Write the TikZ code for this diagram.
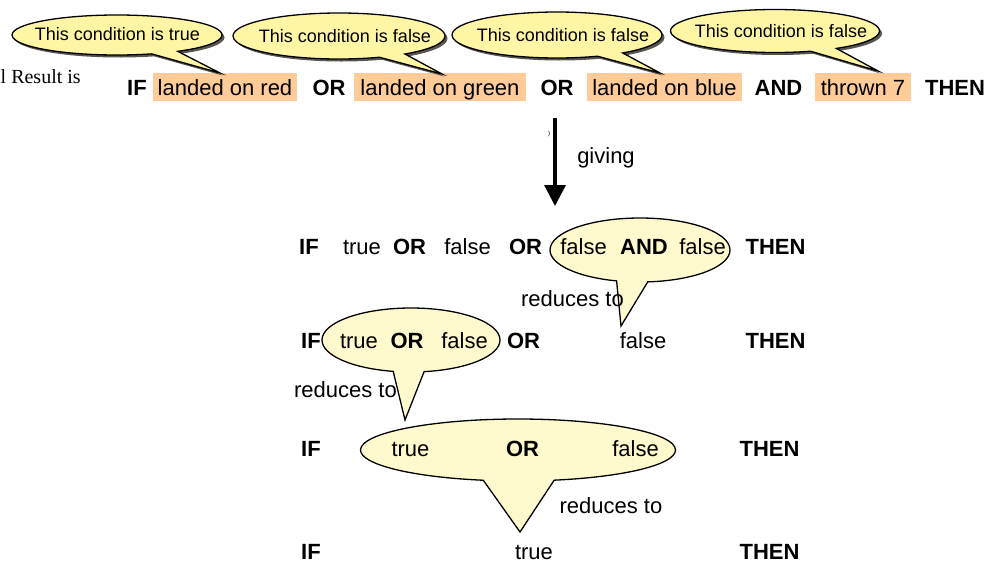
\documentclass[tikz,border=0pt]{standalone}
\usepackage{fontspec}
\setmainfont{Liberation Sans}
\newfontfamily\resultfont{Liberation Serif}
\usetikzlibrary{shapes.callouts,shadows,arrows.meta}
\definecolor{condfill}{RGB}{255,204,153}
\definecolor{notefill}{RGB}{255,246,165}
\definecolor{bubblefill}{RGB}{255,250,205}
\definecolor{noteshade}{RGB}{88,86,78}
\tikzset{
  word/.style={anchor=base, inner sep=0pt, font=\fontsize{22}{26}\selectfont},
  kw/.style={word, font=\fontsize{22}{26}\selectfont\bfseries},
  cond/.style={word, fill=condfill, inner xsep=5pt, inner ysep=4pt, text height=18pt, text depth=2pt},
  note/.style={ellipse callout, draw=black, line width=1.3pt, fill=notefill, inner sep=0pt,
    callout pointer arc=16, drop shadow={shadow xshift=2.5pt, shadow yshift=-2.5pt, fill=noteshade, opacity=1}},
  notetext/.style={anchor=base, inner sep=0pt, font=\fontsize{18}{22}\selectfont},
  bubble/.style={ellipse callout, draw=black, line width=1.3pt, fill=bubblefill, inner sep=0pt, callout pointer arc=20},
}
\begin{document}
\begin{tikzpicture}[x=1pt,y=-1pt]
  \useasboundingbox (0,0) rectangle (990,563);
  % the original condition
  \node[word, anchor=base west, font=\resultfont\fontsize{20}{24}\selectfont] (result) at (0.5,83) {l Result is};
  \node[kw] (if1) at (137,95) {IF};
  \node[cond, minimum width=142pt] (red) at (225,95) {landed on red};
  \node[kw] (or1) at (329,95) {OR};
  \node[cond, minimum width=172pt] (green) at (440,95) {landed on green};
  \node[kw] (or2) at (557,95) {OR};
  \node[cond, minimum width=155pt] (blue) at (664.5,95) {landed on blue};
  \node[kw] (and1) at (778.5,95) {AND};
  \node[cond, minimum width=96pt] (seven) at (863,95) {thrown 7};
  \node[kw] (then1) at (955,95) {THEN};
  % notes above the conditions
  \node[note, minimum width=210pt, minimum height=40pt, callout absolute pointer={(220,73)}] (note1) at (117,35) {};
  \node[notetext] (text1) at (117.5,40) {This condition is true};
  \node[note, minimum width=212pt, minimum height=46pt, callout absolute pointer={(442,74)}] (note2) at (339,36) {};
  \node[notetext] (text2) at (345,42) {This condition is false};
  \node[note, minimum width=210pt, minimum height=46pt, callout absolute pointer={(660,73)}] (note3) at (557,35) {};
  \node[notetext] (text3) at (563,41) {This condition is false};
  \node[note, minimum width=209pt, minimum height=43pt, callout absolute pointer={(878,71)}] (note4) at (775,31) {};
  \node[notetext] (text4) at (781,37) {This condition is false};
  % giving
  \coordinate (gtop) at (555,118);
  \coordinate (gbot) at (555,206);
  \draw[line width=3.2pt, -{Triangle[width=21pt,length=21pt]}] (gtop) -- (gbot);
  \node[word, font=\fontsize{6}{7}\selectfont] (tick) at (549,135) {)};
  \node[word] (giving) at (606,163) {giving};
  % step 1
  \node[bubble, minimum width=180pt, minimum height=64pt, callout absolute pointer={(621,326)}] (bub2) at (640,250) {};
  \node[kw] (if2) at (309,254) {IF};
  \node[word] (true2) at (362,254) {true};
  \node[kw] (or21) at (409.5,254) {OR};
  \node[word] (false21) at (467.5,254) {false};
  \node[kw] (or22) at (525.5,254) {OR};
  \node[word] (false22) at (583.5,254) {false};
  \node[kw] (and2) at (644,254) {AND};
  \node[word] (false23) at (702.5,254) {false};
  \node[kw] (then2) at (775.5,254) {THEN};
  \node[word] (red2) at (572.5,306) {reduces to};
  % step 2
  \node[bubble, minimum width=178pt, minimum height=64pt, callout absolute pointer={(405,420)}] (bub3) at (411,340) {};
  \node[kw] (if3) at (311,348) {IF};
  \node[word] (true3) at (359,348) {true};
  \node[kw] (or31) at (407,348) {OR};
  \node[word] (false31) at (464.5,348) {false};
  \node[kw] (or32) at (523.5,348) {OR};
  \node[word] (false32) at (643,348) {false};
  \node[kw] (then3) at (775.5,348) {THEN};
  \node[word] (red3) at (345.5,397) {reduces to};
  % step 3
  \node[bubble, minimum width=315pt, minimum height=62pt, callout pointer arc=26, callout absolute pointer={(520,532)}] (bub4) at (518,450) {};
  \node[kw] (if4) at (311,456) {IF};
  \node[word] (true4) at (410.5,456) {true};
  \node[kw] (or4) at (522.5,456) {OR};
  \node[word] (false4) at (635.5,456) {false};
  \node[kw] (then4) at (769.5,456) {THEN};
  \node[word] (red4) at (611,513) {reduces to};
  % result
  \node[kw] (if5) at (311,559.5) {IF};
  \node[word] (true5) at (534,559.5) {true};
  \node[kw] (then5) at (769.5,559.5) {THEN};
\end{tikzpicture}
\end{document}
